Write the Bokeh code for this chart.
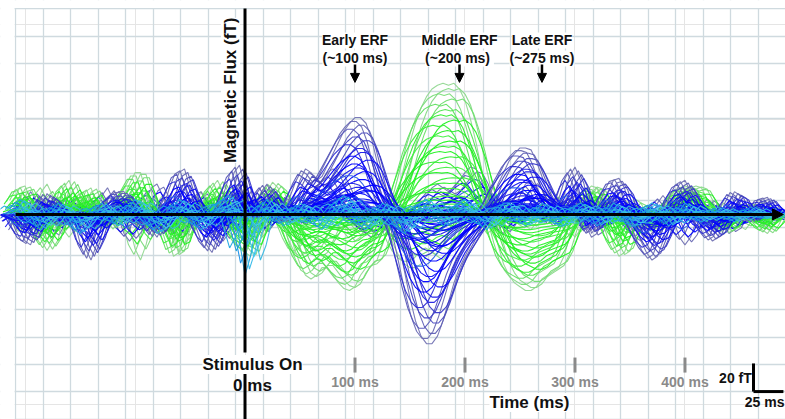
import numpy as np
from bokeh.plotting import figure
from bokeh.models import (ColumnDataSource, Grid, FixedTicker, Label, Arrow,
                          NormalHead, Range1d, BoxAnnotation)
from bokeh.embed import file_html
from bokeh.resources import INLINE

# ---------------- data (fT), sampled every 5 ms from -210 ms ----------------
T_START = -210
T_STEP = 5

blue_main = [
    0, -8, -14, -16, -8, 4, 11, 8, 0, -6,
    -4, 2, -6, -18, -24, -16, -4, 5, 9, 12,
    12, 6, -2, -6, -4, -8, -12, -6, 4, 14,
    22, 24, 14, 2, -8, -16, -20, -12, 0, 12,
    22, 26,
    14, -2, 2, 12, 16, 10, 2, -4, 0, 10,
    18, 24, 22, 18, 20, 26, 32, 38, 44, 48,
    51, 51, 48, 40, 28, 16, 6, -4, -16, -30,
    -44, -56, -64, -68, -68, -64, -56, -46, -36, -28,
    -22, -16, -10, -4, 2, 8, 16, 22, 28, 32,
    35, 35, 34, 28, 20, 12, 6, 4, 10, 20,
    25, 18, 2, -10, -6, 4, 12, 18, 19, 14,
    4, -6, -14, -20, -24, -22, -14, -2, 10, 16,
    18, 12, 4, -4, -10, -14, -12, -4, 6, 12,
    10, 2, -4, 2, 8, 9, 4, 0,
]

blue_alt = [
    -10, -4, 6, 12, 8, -2, -10, -12, -6, 4,
    10, 6, -2, -8, -6, 2, 10, 14, 8, -2,
    -10, -14, -10, 0, 8, 14, 16, 10, 0, -8,
    -12, -8, 2, 10, 12, 6, -4, -10, -14, -10,
    -2, 8,
    14, 8, -4, -10, -6, 4, 10, 8, 2, -4,
    -6, 0, 8, 14, 18, 22, 24, 22, 16, 8,
    0, -6, -10, -12, -10, -4, 2, 6, 4, 0,
    -4, -2, 4, 10, 14, 16, 14, 12, 14, 18,
    22, 25, 24, 18, 8, -2, -8, -10, -6, 2,
    10, 16, 18, 14, 6, -2, -6, -4, 2, 8,
    10, 4, -6, -12, -10, -2, 6, 10, 8, 2,
    -6, -12, -14, -10, -2, 6, 10, 6, -4, -12,
    -16, -12, -4, 4, 8, 6, 0, -6, -10, -8,
    -2, 4, 6, 2, -4, -6, -2, 2,
]

green_main = [
    8, 14, 15, 8, -4, -14, -19, -14, 0, 14,
    18, 10, 4, 12, 14, 6, -4, -8, -4, 4,
    10, 16, 22, 22, 12, -2, -10, -6, -12, -22,
    -20, -8, 4, 6, 2, 6, 14, 18, 12, 0,
    -10, -16,
    -20, -22, -12, 2, 12, 17, 14, 4, -8, -18,
    -26, -32, -34, -32, -28, -28, -32, -36, -39, -40,
    -38, -32, -28, -27, -24, -16, -6, 4, 14, 26,
    38, 48, 56, 62, 66, 68, 69, 68, 69, 66,
    60, 50, 38, 24, 10, -4, -16, -26, -32, -36,
    -38, -40, -40, -38, -34, -32, -30, -28, -22, -12,
    -2, 6, 12, 15, 14, 6, -6, -16, -22, -20,
    -12, -4, 2, 0, -6, -8, -4, 4, 10, 14,
    15, 14, 15, 14, 8, 0, -6, -10, -8, -2,
    4, 6, 2, -4, -8, -10, -6, 0,
]

green_alt = [
    0, -6, -10, -6, 4, 12, 16, 10, 0, -8,
    -12, -8, 2, 10, 8, 0, -8, -6, 4, 10,
    6, -6, -18, -24, -16, -4, 6, 10, 4, -8,
    -20, -16, -4, 6, 12, 8, -2, -8, -4, 6,
    14, 16,
    6, -8, -16, -12, -2, 6, 4, -6, -14, -20,
    -22, -20, -16, -18, -22, -20, -14, -8, -6, -10,
    -14, -12, -6, 0, 4, 0, -8, -16, -22, -26,
    -28, -28, -26, -22, -20, -22, -24, -20, -12, -4,
    2, 4, 0, -6, -10, -8, -2, 4, 8, 6,
    0, -6, -8, -4, 4, 10, 12, 8, 0, -8,
    -12, -8, 2, 10, 14, 10, 2, -4, -6, -2,
    4, 8, 6, 0, -6, -10, -8, -2, 6, 12,
    14, 10, 4, -2, -6, -4, 2, 6, 4, -2,
    -6, -8, -4, 2, 6, 6, 2, -2,
]

cyan_small = [
    4, 8, 6, 0, -6, -8, -4, 2, 6, 4,
    -2, -8, -10, -6, 0, 4, 6, 2, -4, -6,
    -2, 4, 8, 6, 0, -6, -10, -8, -2, 4,
    8, 6, 0, -6, -8, -4, 2, 6, 8, 10,
    4, -14,
    -32, -22, -6, 4, 8, 4, -2, -6, -4, 2,
    6, 4, -2, -6, -8, -4, 2, 8, 10, 6,
    0, -6, -8, -4, 2, 6, 4, -2, -8, -10,
    -6, 0, 6, 8, 4, -2, -6, -4, 2, 6,
    8, 4, -2, -6, -8, -4, 2, 6, 6, 2,
    -4, -6, -4, 2, 6, 4, -2, -6, -6, -2,
    4, 6, 4, -2, -6, -4, 2, 6, 4, -2,
    -6, -6, -2, 4, 6, 4, -2, -6, -4, 2,
    6, 4, -2, -4, -2, 2, 4, 2, -2, -4,
    -2, 2, 4, 2, -2, -2, 0, 2,
]

# per-channel gains and latency offsets (ms)
blue_main_gain = [1.0, 0.96, 0.92, 0.88, 0.84, 0.8, 0.76, 0.72, 0.68, 0.64,
                  0.6, 0.56, 0.52, 0.48, 0.44, 0.4, 0.36, 0.32, 0.28, 0.25,
                  0.22, 0.19, 0.16, 0.13, 0.1, 0.07, 0.05, 0.03, 0.12, 0.2,
                  0.3, 0.15, 0.08, 0.18, 0.24, 0.04]
blue_main_lag = [0, -4, 3, -7, 6, -2, 8, -9, 2, 5, -5, 10, -3, 0, 7, -8, 4, -6,
                 1, 9, -1, -10, 3, 6, -4, 0, 2, -2, 12, -12, 14, -14, 8, -8, 11, -11]
blue_alt_gain = [1.0, 0.9, 0.82, 0.74, 0.66, 0.58, 0.5, 0.43, 0.36, 0.3, 0.24,
                 0.18, 0.12, 0.06, 0.45, 0.28, 0.2, 0.1, 0.15, 0.35]
blue_alt_lag = [0, 6, -5, 3, -8, 9, -3, 12, -11, 2, 7, -6, 4, -2, 15, -15, 18,
                -18, 10, -10]
green_main_gain = [1.0, 0.96, 0.92, 0.88, 0.84, 0.8, 0.76, 0.72, 0.68, 0.64,
                   0.6, 0.56, 0.52, 0.48, 0.44, 0.4, 0.36, 0.32, 0.28, 0.24,
                   0.2, 0.17, 0.14, 0.11, 0.08, 0.05]
green_main_lag = [0, 5, -4, 8, -7, 2, -2, 10, -9, 4, -5, 6, 0, -3, 7, -8, 3, -6,
                  9, 1, -1, -10, 5, -4, 2, 0]
green_alt_gain = [1.0, 0.88, 0.76, 0.65, 0.55, 0.45, 0.36, 0.27, 0.18, 0.1]
green_alt_lag = [0, -6, 5, -3, 9, -9, 3, 12, -12, 6]
cyan_gain = [1.0, 0.9, 0.8, 0.7, 0.6, 0.5, 0.42, 0.34, 0.26, 0.18, 0.1,
             0.75, 0.55, 0.3]
cyan_lag = [0, 4, -4, 8, -8, 2, -2, 6, -6, 10, -10, 14, -14, 12]

time_ticks = [100, 200, 300, 400]
time_tick_labels = ["100 ms", "200 ms", "300 ms", "400 ms"]

erf_times = [100, 195, 270]
erf_titles = ["Early ERF", "Middle ERF", "Late ERF"]
erf_subtitles = ["(~100 ms)", "(~200  ms)", "(~275 ms)"]

# ---------------- styles ----------------
FONT = "Liberation Sans"
BLUE_OUTER = ["#7474b4", "#6a6ab4", "#6060b6", "#5656ba", "#4a4abe", "#4040c4",
              "#3838cc", "#3030d4"]
BLUE_INNER = ["#1a1ae8", "#0000ff", "#0c0cf4", "#0000ff", "#1515ee", "#0000ff",
              "#2a5ee6", "#0000ff", "#2424e0"]
GREEN_OUTER = ["#92d892", "#86da86", "#7adc7a", "#6ede6e", "#60e060", "#52e452"]
GREEN_INNER = ["#30ee30", "#22f222", "#3cf03c", "#28ea28", "#44f044", "#1cf41c"]
CYAN = ["#22a8e0", "#30b8e8", "#1890e8", "#40c8ec", "#1aa0dc", "#38b8e0"]


def group_source(template, gains, lags, outer, inner):
    t = T_START + T_STEP * np.arange(len(template))
    y = np.asarray(template, dtype=float)
    xs, ys, cols = [], [], []
    for i, (g, lag) in enumerate(zip(gains, lags)):
        xs.append((t + lag).tolist())
        ys.append((g * y).tolist())
        cols.append(outer[i] if i < len(outer) else inner[i % len(inner)])
    return ColumnDataSource(dict(xs=xs, ys=ys, color=cols))


# 1.1 px per ms (0 ms at x=244.5 px), 1.9 px per unit (0 at y=214 px)
p = figure(width=785, height=419, output_backend="svg", toolbar_location=None,
           x_axis_location=None, y_axis_location=None,
           x_range=Range1d(-222.3, 491.4), y_range=Range1d(-107.9, 112.6),
           min_border=0, background_fill_color="white",
           border_fill_color="white", outline_line_color=None)

p.add_layout(Grid(dimension=0, ticker=FixedTicker(ticks=[-8.6 + 25 * k for k in range(-9, 21)]),
                  grid_line_color="#cfdadf", grid_line_width=1.3))
p.add_layout(Grid(dimension=1, ticker=FixedTicker(ticks=[7.39 + 14.395 * m for m in range(-9, 9)]),
                  grid_line_color="#cfdadf", grid_line_width=1.3))

groups = [
    (green_alt, green_alt_gain, green_alt_lag, GREEN_OUTER[:3], GREEN_INNER),
    (blue_alt, blue_alt_gain, blue_alt_lag, BLUE_OUTER[:3], BLUE_INNER),
    (green_main, green_main_gain, green_main_lag, GREEN_OUTER, GREEN_INNER),
    (blue_main, blue_main_gain, blue_main_lag, BLUE_OUTER, BLUE_INNER),
    (cyan_small, cyan_gain, cyan_lag, [], CYAN),
]
for tpl, g, lg, o, inn in groups:
    src = group_source(tpl, g, lg, o, inn)
    p.multi_line(xs="xs", ys="ys", line_color="color", line_width=1.1,
                 line_alpha=0.95, source=src)

# white margins outside the gridded area (left strip and top strip)
p.add_layout(BoxAnnotation(right=-209.5, fill_color="white", fill_alpha=1.0,
                           line_color=None, level="underlay"))
p.add_layout(BoxAnnotation(bottom=108.6, fill_color="white", fill_alpha=1.0,
                           line_color=None, level="underlay"))

# time axis with arrow
p.add_layout(Arrow(end=NormalHead(size=11, fill_color="black", line_color="black"),
                   x_start=-208.6, y_start=0, x_end=489.5, y_end=0,
                   line_width=3, line_color="black"))

# stimulus onset line (interrupted by its label)
p.segment(x0=[0, 0], y0=[108.4, -83.2], x1=[0, 0], y1=[-72.6, -107.9],
          line_color="black", line_width=3)

# time tick marks
p.segment(x0=time_ticks, y0=[-75.3] * 4, x1=time_ticks, y1=[-83.2] * 4,
          line_color="#8a8a8a", line_width=3)
for tk, lab in zip(time_ticks, time_tick_labels):
    p.add_layout(Label(x=tk, y=-88.4, text=lab, text_font=FONT, text_font_size="14px",
                       text_font_style="bold", text_color="#8a8a8a",
                       text_align="center", text_baseline="middle"))

# ERF labels and arrows
for tm, t1, t2 in zip(erf_times, erf_titles, erf_subtitles):
    p.add_layout(Label(x=tm, y=91.6, text=t1, text_font=FONT, text_font_size="14px",
                       text_font_style="bold", text_color="#111111",
                       text_align="center", text_baseline="middle",
                       background_fill_color="white"))
    p.add_layout(Label(x=tm, y=82.1, text=t2, text_font=FONT, text_font_size="14px",
                       text_font_style="bold", text_color="#111111",
                       text_align="center", text_baseline="middle",
                       background_fill_color="white"))
    p.add_layout(Arrow(end=NormalHead(size=9, fill_color="black", line_color="black"),
                       x_start=tm, y_start=78.9, x_end=tm, y_end=69.5,
                       line_width=2.5, line_color="black"))

p.add_layout(Label(x=-13.2, y=65.3, text="Magnetic Flux (fT)", angle=np.pi / 2,
                   text_font=FONT, text_font_size="17px", text_font_style="bold",
                   text_color="#111111", text_align="center", text_baseline="middle",
                   background_fill_color="white"))

p.add_layout(Label(x=6.8, y=-78.9, text="Stimulus On", text_font=FONT,
                   text_font_size="17px", text_font_style="bold", text_color="#111111",
                   text_align="center", text_baseline="middle",
                   background_fill_color="white"))
p.add_layout(Label(x=6.8, y=-90.0, text="0 ms", text_font=FONT,
                   text_font_size="17px", text_font_style="bold", text_color="#111111",
                   text_align="center", text_baseline="middle"))

p.add_layout(Label(x=258.6, y=-98.9, text="Time (ms)", text_font=FONT,
                   text_font_size="17px", text_font_style="bold", text_color="#111111",
                   text_align="center", text_baseline="middle",
                   background_fill_color="white"))

# scale bar (20 fT x 25 ms)
p.segment(x0=[462.3, 462.3], y0=[-78.4, -93.2], x1=[462.3, 489.5], y1=[-93.2, -93.2],
          line_color="black", line_width=3)
p.add_layout(Label(x=445.9, y=-86.3, text="20 fT", text_font=FONT,
                   text_font_size="14px", text_font_style="bold", text_color="#111111",
                   text_align="center", text_baseline="middle"))
p.add_layout(Label(x=490.5, y=-98.9, text="25 ms", text_font=FONT,
                   text_font_size="14px", text_font_style="bold", text_color="#111111",
                   text_align="right", text_baseline="middle"))

open("out.html", "w").write(file_html(p, INLINE))
